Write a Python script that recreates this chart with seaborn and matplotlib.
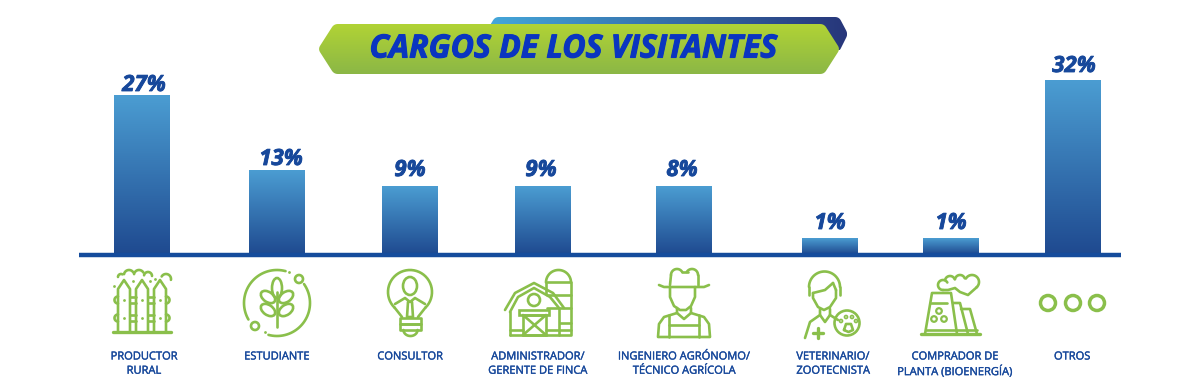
#!/usr/bin/env python3
"""Cargos de los visitantes: bar chart with gradient bars and line icons."""

import numpy as np
import pandas as pd
import matplotlib
matplotlib.use('Agg')
import matplotlib.pyplot as plt
import matplotlib.patheffects as pe
from matplotlib.colors import LinearSegmentedColormap
from matplotlib.patches import Circle, Ellipse, Polygon, Rectangle
import seaborn as sns

TITLE = 'CARGOS DE LOS VISITANTES'
cargos = ['PRODUCTOR\nRURAL', 'ESTUDIANTE', 'CONSULTOR',
          'ADMINISTRADOR/\nGERENTE DE FINCA',
          'INGENIERO AGRÓNOMO/\nTÉCNICO AGRÍCOLA',
          'VETERINARIO/\nZOOTECNISTA',
          'COMPRADOR DE\nPLANTA (BIOENERGÍA)', 'OTROS']
pct_labels = ['27%', '13%', '9%', '9%', '8%', '1%', '1%', '32%']
# heights as drawn in the picture, the bars are not proportional to the labels
bar_heights = [159, 84, 68, 68, 68, 16, 16, 174]

BAR_X = [142, 277, 410, 543, 684, 830, 951, 1073]
LABEL_X = [144, 277, 410, 538, 684, 833, 955, 1072]
PCT_X = [144, 281, 410, 541, 682, 830, 951, 1074]
PCT_Y = [85.5, 159.5, 170.5, 170.5, 170.5, 223.5, 223.5, 66.5]
BAR_WIDTH = 56
BASE_Y = 254

BLUE_TEXT = '#17489b'
GREEN = '#8abf4b'
LW = 1.9

sns.set_style('white')
plt.rcParams['font.family'] = ['Open Sans', 'DejaVu Sans']

fig = plt.figure(figsize=(12, 3.9), dpi=100)
ax = fig.add_axes([0, 0, 1, 1])

df = pd.DataFrame({'x': BAR_X, 'h': bar_heights})
sns.barplot(data=df, x='x', y='h', native_scale=True,
            width=BAR_WIDTH / min(np.diff(BAR_X)), color='#3a76b0',
            errorbar=None, ax=ax)

bar_cmap = LinearSegmentedColormap.from_list('bar', ['#4b9dd2', '#1f4a90'])
grad = np.linspace(0, 1, 256).reshape(-1, 1)
for bar in ax.patches:
    x0, w, h = bar.get_x(), bar.get_width(), bar.get_height()
    bar.set_visible(False)
    ax.imshow(grad, extent=[x0, x0 + w, 0, h], aspect='auto', cmap=bar_cmap, zorder=2)

ax.set_xlim(0, 1200)
ax.set_ylim(BASE_Y - 390, BASE_Y)
ax.axis('off')

# overlay in picture pixels for banner and icons
px = fig.add_axes([0, 0, 1, 1], facecolor='none')
px.axis('off')

px.plot([79, 1121], [255, 255], color='#154c9c', lw=3.2, solid_capstyle='butt')

for x, y, pct in zip(PCT_X, PCT_Y, pct_labels):
    px.text(x, y, pct, ha='center', va='center', color=BLUE_TEXT, fontsize=16,
            fontweight='bold', fontstyle='italic',
            path_effects=[pe.withStroke(linewidth=0.6, foreground=BLUE_TEXT)])

for x, label in zip(LABEL_X, cargos):
    px.text(x, 351.5, label, ha='center', va='top', color=BLUE_TEXT, fontsize=8,
            linespacing=1.4,
            path_effects=[pe.withStroke(linewidth=0.25, foreground=BLUE_TEXT)])


def round_corners(points, r=4):
    out = []
    n = len(points)
    for i, p in enumerate(points):
        p = np.array(p, float)
        a = np.array(points[i - 1], float)
        b = np.array(points[(i + 1) % n], float)
        u = (a - p) / np.linalg.norm(a - p)
        v = (b - p) / np.linalg.norm(b - p)
        for t in np.linspace(0, 1, 8):
            out.append(tuple((1 - t) ** 2 * (p + u * r) + 2 * t * (1 - t) * p + t ** 2 * (p + v * r)))
    return out


def gradient_poly(points, colors, horizontal, zorder):
    points = round_corners(points)
    poly = Polygon(points, closed=True, facecolor='none', edgecolor='none', zorder=zorder)
    px.add_patch(poly)
    xs, ys = zip(*points)
    cmap = LinearSegmentedColormap.from_list('g', colors)
    data = np.linspace(0, 1, 256).reshape(1, -1) if horizontal else np.linspace(0, 1, 256).reshape(-1, 1)
    im = px.imshow(data, extent=[min(xs), max(xs), max(ys), min(ys)], aspect='auto',
                   cmap=cmap, zorder=zorder)
    im.set_clip_path(poly)


gradient_poly([(489, 27), (495, 17), (839, 17), (848, 34), (839, 52), (825, 27)],
              ['#45a7da', '#27367a'], True, 3)
gradient_poly([(318, 49), (334, 24), (824, 24), (840, 49), (824, 74), (334, 74)],
              ['#b1d335', '#8bb746'], False, 4)
px.text(574, 49, TITLE, ha='center', va='center', color='#0a35c0', fontsize=23,
        fontweight='bold', fontstyle='italic', zorder=5,
        path_effects=[pe.withStroke(linewidth=0.8, foreground='#0a35c0')])


def line(*pts, lw=LW):
    xs, ys = zip(*pts)
    px.plot(xs, ys, color=GREEN, lw=lw, solid_capstyle='round', solid_joinstyle='round')


def arc(cx, cy, r, a0, a1, lw=LW, ry=None):
    t = np.radians(np.linspace(a0, a1, 40))
    px.plot(cx + r * np.cos(t), cy + (ry or r) * np.sin(t), color=GREEN, lw=lw,
            solid_capstyle='round')


def ring(cx, cy, r, lw=LW):
    px.add_patch(Circle((cx, cy), r, fill=False, edgecolor=GREEN, lw=lw))


def oval(cx, cy, w, h, angle=0, lw=LW):
    px.add_patch(Ellipse((cx, cy), w, h, angle=angle, fill=False, edgecolor=GREEN, lw=lw))


def box(x0, y0, x1, y1, lw=LW):
    px.add_patch(Rectangle((x0, y0), x1 - x0, y1 - y0, fill=False, edgecolor=GREEN, lw=lw))


def dots(*pts):
    xs, ys = zip(*pts)
    px.plot(xs, ys, ls='none', marker='o', ms=2, mew=0, color=GREEN)


def icon_fence():
    for cx in (124, 142, 160):
        line((cx - 6, 332), (cx - 6, 289), (cx, 280), (cx + 6, 289), (cx + 6, 332))
        dots((cx, 300), (cx, 318))
    for y in (300, 318):
        for x0, x1 in ((130, 136), (148, 154)):
            line((x0, y - 3), (x1, y - 3))
            line((x0, y + 3), (x1, y + 3))
        arc(118, y, 3.5, 90, 270)
        arc(166, y, 3.5, -90, 90)
    line((113, 332), (171, 332), lw=2.4)
    arc(121, 277, 3, 180, 300)
    arc(129, 275, 5, 190, 330)
    arc(139, 275, 5, 190, 330)
    arc(148, 276, 4, 190, 360)
    arc(166, 279, 5, 210, 370)
    dots((114, 286), (133, 281), (150, 281), (155, 279))


def icon_wheat():
    arc(277, 303, 33, -35, 105)
    arc(277, 303, 33, 150, 285)
    ring(299, 279, 4)
    ring(255, 326, 4)
    dots((289, 272), (265, 332))
    line((277, 292), (277, 327))
    oval(277, 288, 10, 20)
    for y in (297, 310):
        oval(268, y, 16, 10, angle=35)
        oval(286, y, 16, 10, angle=-35)


def icon_bulb():
    arc(410, 292, 22, 135, 405)
    line((394.5, 307.5), (402, 317))
    line((425.5, 307.5), (418, 317))
    oval(410, 286, 14, 18)
    line((395, 304), (405, 298), (410, 302), (415, 298), (425, 304))
    line((408, 302), (407, 317), (413, 317), (412, 302))
    px.add_patch(Rectangle((400, 318), 21, 6, fill=False, edgecolor=GREEN, lw=LW,
                           joinstyle='round'))
    px.add_patch(Rectangle((400, 324), 21, 6, fill=False, edgecolor=GREEN, lw=LW,
                           joinstyle='round'))
    arc(410.5, 330, 7, 0, 180, ry=6)


def icon_barn():
    arc(558.5, 282.5, 12.5, 180, 360)
    line((546, 282.5), (546, 294))
    line((571, 282.5), (571, 335), (510, 335))
    for y in (282, 295, 308):
        line((547, y), (571, y))
    line((560, 323), (571, 323))
    line((510, 330), (523, 330))
    line((546, 330), (571, 330))
    line((505, 310), (515, 293), (534, 283), (553, 293), (564, 308))
    line((510, 312), (518, 297), (534, 288), (550, 297), (559, 308))
    line((510, 312), (510, 335))
    line((559, 308), (559, 335))
    ring(534, 300, 6)
    box(519, 310, 549, 315)
    box(523, 315, 546, 335)
    line((523, 315), (546, 335))
    line((546, 315), (523, 335))


def icon_farmer():
    line((659, 285), (664, 287), (704, 287), (709, 285))
    line((670, 285), (671, 275))
    arc(677, 275, 6, 180, 330)
    line((682, 272), (688, 272))
    arc(692, 275, 6, 210, 360)
    line((698, 275), (698, 285))
    line((670, 287), (670, 297), (674, 306), (680, 310), (686, 310), (691, 306),
         (695, 297), (695, 287))
    line((677, 308), (677, 313), (664, 317), (659, 324), (658, 337), (710, 337),
         (709, 324), (704, 317), (691, 313), (691, 308))
    line((669, 337), (669, 315))
    line((699, 337), (699, 315))
    line((669, 325), (699, 325))
    line((677, 313), (684, 319), (691, 313))


def icon_vet():
    arc(824.5, 287, 15.5, 180, 360)
    line((809, 287), (809, 295))
    line((840, 287), (840, 295))
    line((813, 293), (825, 290), (833, 283))
    line((833, 283), (836, 290))
    line((813, 293), (813, 298), (818, 307), (824, 310), (830, 307), (836, 298), (836, 290))
    line((820, 309), (820, 315), (810, 322), (805, 338))
    line((830, 309), (830, 315), (838, 320))
    line((820, 315), (825, 322), (830, 315))
    line((813, 333), (823, 333), lw=2.4)
    line((818, 328), (818, 338), lw=2.4)
    ring(847, 323, 12.5)
    for x, y in ((841, 321), (846, 317), (852, 317), (856, 321)):
        ring(x, y, 1.5, lw=1.2)
    line((844, 330), (846, 324), (851, 324), (853, 330), (848.5, 332), (844, 330))


def icon_plant():
    line((921, 334), (980, 334), lw=2.4)
    line((925, 334), (932, 293), (951, 293), (957, 334))
    line((931, 303), (947, 303))
    line((953, 303), (960, 303), (968, 334))
    line((961, 309), (970, 309), (977, 334))
    line((926, 330), (977, 330))
    for dx, dy in ((0, -5), (-5, 3), (5, 3)):
        ring(939 + dx, 316 + dy, 2.8, lw=1.6)
    arc(943, 285, 5, 90, 330)
    arc(950, 281, 5, 190, 340)
    arc(960, 280, 5, 190, 340)
    arc(972, 282, 7, 210, 410)
    line((977, 287), (968, 295), (960, 292), (955, 288), (948, 290), (943, 290))


def icon_otros():
    for x in (1048, 1073, 1097):
        ring(x, 303, 7.5, lw=2.5)


for draw_icon in (icon_fence, icon_wheat, icon_bulb, icon_barn, icon_farmer, icon_vet,
                  icon_plant, icon_otros):
    draw_icon()

px.set_xlim(0, 1200)
px.set_ylim(390, 0)

fig.savefig('out.png', dpi=100)
plt.close(fig)
